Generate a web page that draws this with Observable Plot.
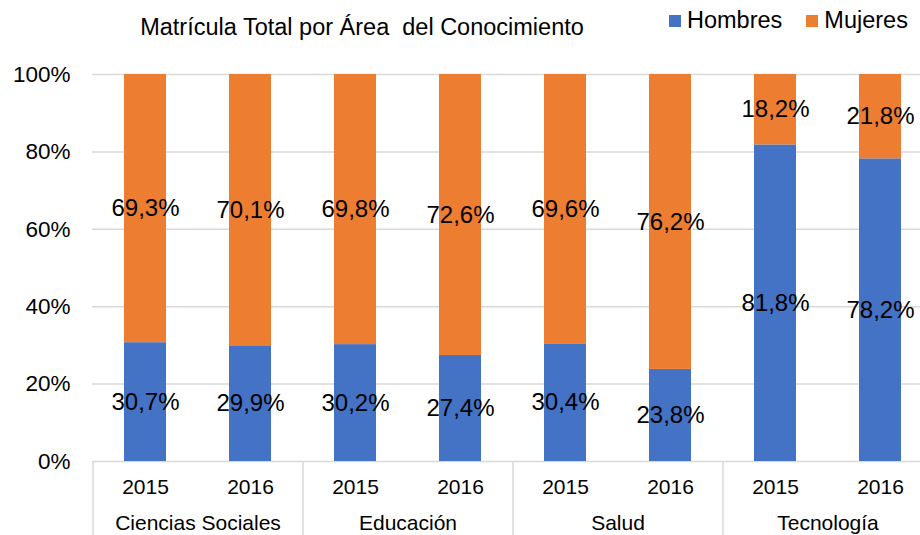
<!DOCTYPE html>
<html>
<head>
<meta charset="utf-8">
<script src="https://cdn.jsdelivr.net/npm/d3@7"></script>
<script src="https://cdn.jsdelivr.net/npm/@observablehq/plot@0.6"></script>
<style>
  html, body { margin: 0; padding: 0; background: #fff; }
  #wrap { position: relative; width: 920px; height: 535px; overflow: hidden; font-family: "Liberation Sans", Arial, sans-serif; color: #000; }
  #title { position: absolute; left: 0; width: 724px; top: 14px; text-align: center; font-size: 23.5px; white-space: nowrap; }
  #legend { position: absolute; left: 669px; top: 7px; font-size: 23.5px; display: flex; align-items: center; white-space: nowrap; }
  .sw { display: inline-block; width: 12px; height: 12px; margin-right: 6px; }
  .item { display: flex; align-items: center; margin-right: 24px; }
  svg { position: absolute; left: 0; top: 0; }
</style>
</head>
<body>
<div id="wrap">
  <div id="chart"></div>
  <div id="title">Matrícula Total por Área&nbsp; del Conocimiento</div>
  <div id="legend"></div>
</div>
<script>
const areas = ["Ciencias Sociales", "Educación", "Salud", "Tecnología"];
const years = ["2015", "2016"];
const series = ["Hombres", "Mujeres"];
const hombres = [0.307, 0.299, 0.302, 0.274, 0.304, 0.238, 0.818, 0.782];
const mujeres = [0.693, 0.701, 0.698, 0.726, 0.696, 0.762, 0.182, 0.218];
const yTicks = [0, 0.2, 0.4, 0.6, 0.8, 1];
const colors = ["#4472C4", "#ED7D31"];

const keys = [];
areas.forEach(a => years.forEach(y => keys.push(a + "|" + y)));
const rows = [];
[hombres, mujeres].forEach((vals, s) => {
  vals.forEach((v, i) => rows.push({key: keys[i], serie: series[s], value: v}));
});
const fmt = d => (d * 100).toFixed(1).replace(".", ",") + "%";

const chart = Plot.plot({
  width: 920, height: 535,
  marginTop: 74, marginBottom: 74, marginLeft: 92, marginRight: 0,
  style: {fontFamily: "'Liberation Sans', Arial, sans-serif", fontSize: "21px", color: "#000", background: "transparent"},
  x: {domain: keys, range: [92, 932], paddingInner: 0.6, paddingOuter: 0.3,
      tickFormat: k => k.split("|")[1], tickSize: 0, tickPadding: 18, label: null},
  y: {domain: [0, 1], ticks: yTicks, tickFormat: d => Math.round(d * 100) + "%",
      tickSize: 0, tickPadding: 22, label: null},
  color: {domain: series, range: colors},
  marks: [
    Plot.ruleY(yTicks, {stroke: "#d9d9d9", strokeWidth: 1.5}),
    Plot.barY(rows, {x: "key", y: "value", fill: "serie"}),
    Plot.text(rows, Plot.stackY({x: "key", y: "value", text: d => fmt(d.value), fontSize: 24, fill: "#000"})),
    Plot.ruleX(areas, {x: a => a + "|2015", dx: -52.5, y1: 0, y2: -0.2, stroke: "#d9d9d9", strokeWidth: 1.5}),
    Plot.text(areas, {x: a => a + "|2015", dx: 52.5, frameAnchor: "bottom", dy: 68, text: d => d, fontSize: 21, fill: "#000"})
  ]
});
d3.select(chart).selectAll("text")
  .filter(function() { return /^\d+%$/.test(this.textContent); })
  .attr("font-size", 22.5).style("font-size", "22.5px");
document.getElementById("chart").appendChild(chart);

const legend = document.getElementById("legend");
series.forEach((s, i) => {
  const it = document.createElement("div");
  it.className = "item";
  it.innerHTML = `<span class="sw" style="background:${colors[i]}"></span>${s}`;
  legend.appendChild(it);
});
</script>
</body>
</html>
